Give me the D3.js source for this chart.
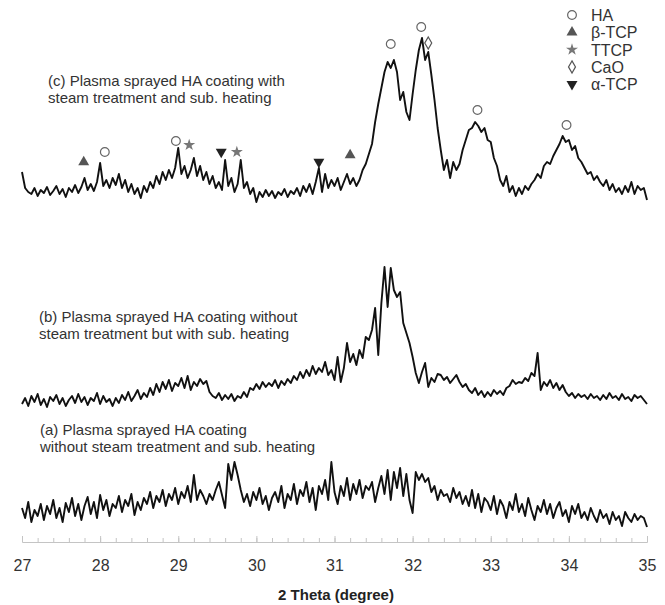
<!DOCTYPE html>
<html><head><meta charset="utf-8">
<script src="https://cdn.jsdelivr.net/npm/d3@7"></script>
<style>body{margin:0;background:#fff} svg{display:block}</style>
</head><body>
<script>
// 2-theta sampling grid: 27.00 .. 35.00 every 0.04 degree (201 points)
const thetaStart = 27, thetaStep = 0.04, nPoints = 201;

// Intensity (a.u.) of each pattern, relative to its own baseline
const traceA = [
 22,12,28,8,20,14,26,10,24,16,
 30,12,22,8,27,18,32,14,26,10,
 24,33,16,28,12,35,20,30,14,26,
 22,34,18,30,24,36,15,28,20,32,
 26,38,22,34,28,40,24,36,30,42,
 26,38,32,44,28,55,30,40,34,26,
 36,30,40,48,35,22,66,50,68,55,
 40,28,36,24,38,30,42,26,34,20,
 32,38,28,44,22,36,30,46,26,40,
 34,48,28,42,20,44,36,50,30,68,
 38,26,44,34,52,30,46,36,50,32,
 44,40,48,28,42,54,36,60,30,58,
 42,62,34,56,30,17,58,50,56,48,
 52,38,44,30,40,34,36,28,42,32,
 38,26,34,24,40,22,36,18,32,28,
 20,34,16,30,24,12,28,20,36,18,
 26,14,32,20,10,24,18,30,16,26,
 12,22,28,14,20,8,24,16,26,12,
 18,10,22,14,8,20,12,16,6,18,
 10,14,4,18,12,8,16,10,14,12,
 3];
const traceB = [
 6,12,4,14,8,16,5,11,3,13,
 9,15,6,12,4,10,14,7,16,8,
 13,5,12,9,17,6,14,8,11,4,
 12,7,15,10,18,9,14,20,11,17,
 13,22,15,26,18,28,21,30,19,27,
 24,32,22,34,20,28,24,31,26,29,
 18,14,12,17,10,15,11,16,9,14,
 12,18,13,22,20,26,21,28,23,27,
 24,30,22,29,25,31,27,34,30,38,
 32,40,34,44,36,42,38,48,35,40,
 30,53,28,42,67,48,56,45,60,52,
 73,70,80,102,55,107,143,103,142,120,
 113,118,87,77,67,53,37,27,38,47,
 23,32,28,36,35,30,33,27,31,35,
 28,23,26,20,17,22,15,19,13,18,
 14,20,16,19,15,22,24,30,26,28,
 27,32,29,37,34,57,20,28,24,30,
 22,27,20,25,18,14,17,12,16,13,
 15,11,16,12,14,10,15,11,17,12,
 14,10,16,11,13,9,15,12,14,10,
 6];
const traceC = [
 28,12,8,6,12,4,10,7,13,5,
 9,14,6,11,3,12,8,15,7,13,
 22,10,16,9,18,37,14,20,12,22,
 15,26,12,20,8,16,6,12,2,14,
 8,18,12,24,16,28,20,30,22,32,
 52,26,34,22,30,42,24,34,20,28,
 16,24,12,18,10,40,14,22,8,16,
 40,12,18,6,12,-2,8,3,10,4,
 9,2,8,5,11,3,9,6,12,4,
 14,8,16,6,18,32,8,26,12,20,
 14,22,10,18,26,16,22,14,20,30,
 36,46,56,78,96,112,128,138,132,140,
 128,100,108,88,80,106,130,150,162,140,
 148,125,100,72,50,30,40,22,38,30,
 36,50,60,70,72,78,74,68,72,60,
 58,42,34,20,14,24,8,14,4,12,
 6,14,10,16,20,26,22,34,38,36,
 44,50,56,64,58,60,50,54,42,38,
 32,26,28,20,24,18,14,20,10,16,
 8,12,6,14,8,18,6,14,10,12,
 0];

const traceLabels = [
  ["(c) Plasma sprayed HA coating with", "steam treatment and sub. heating"],
  ["(b) Plasma sprayed HA coating without", "steam treatment but with sub. heating"],
  ["(a) Plasma sprayed HA coating", "without steam treatment and sub. heating"]
];

// Phase markers on pattern (c): phase, 2theta, intensity level above pattern (c) baseline
const phaseNames = ["HA", "β-TCP", "TTCP", "CaO", "α-TCP"];
const markerPhase = ["β-TCP","HA","HA","TTCP","α-TCP","TTCP","α-TCP","β-TCP","HA","HA","CaO","HA","HA"];
const markerTheta = [27.79, 28.06, 28.97, 29.14, 29.55, 29.75, 30.80, 31.20, 31.72, 32.11, 32.20, 32.83, 33.97];
const markerLevel = [38, 48, 59, 55, 48, 48, 38, 45, 156, 173, 157, 90, 75];

const xTicks = [27, 28, 29, 30, 31, 32, 33, 34, 35];
const xTitle = "2 Theta (degree)";

// ---------------- drawing ----------------
const W = 665, H = 605;
const svg = d3.select("body").append("svg").attr("width", W).attr("height", H)
  .style("font-family", "'Liberation Sans', Arial, sans-serif");

const x = d3.scaleLinear().domain([27, 35]).range([22, 647]);
const y = d3.scaleLinear().domain([0, 520]).range([542, 22]);
const offsets = [342, 132, 12]; // stacking offsets for c, b, a

const theta = d3.range(nPoints).map(i => thetaStart + i * thetaStep);
const traces = [traceC, traceB, traceA];

const line = d3.line().x(d => x(d[0])).y(d => y(d[1]));
traces.forEach((tr, k) => {
  const pts = tr.map((v, i) => [theta[i], v + offsets[k]]);
  svg.append("path").attr("d", line(pts))
    .attr("fill", "none").attr("stroke", "#111").attr("stroke-width", 1.9)
    .attr("stroke-linejoin", "round");
});

// axis
const minorTicks = d3.range(0, 41).map(i => 27 + i * 0.2);
const gMinor = svg.append("g").attr("transform", `translate(0,${y(0)})`)
  .call(d3.axisBottom(x).tickValues(minorTicks).tickSizeInner(-4).tickSizeOuter(0).tickFormat(""));
const gAxis = svg.append("g").attr("transform", `translate(0,${y(0)})`)
  .call(d3.axisBottom(x).tickValues(xTicks).tickSizeInner(-6).tickSizeOuter(0).tickPadding(18).tickFormat(d3.format("d")));
svg.selectAll(".domain").attr("stroke", "#c4c4c4");
svg.selectAll(".tick line").attr("stroke", "#c4c4c4");
gAxis.selectAll("text").attr("font-size", 16).attr("fill", "#333")
  .style("font-family", "'Liberation Sans', Arial, sans-serif");

svg.append("text").attr("x", 336).attr("y", 600).attr("text-anchor", "middle")
  .attr("font-size", 15).attr("font-weight", "bold").attr("fill", "#222").text(xTitle);

// trace labels
const labelPos = [[48, 86, 103], [39, 322, 339], [40, 435, 452]];
traceLabels.forEach((lines, k) => {
  lines.forEach((t, j) => {
    svg.append("text").attr("x", labelPos[k][0]).attr("y", labelPos[k][1 + j])
      .attr("font-size", 15).attr("fill", "#333").text(t);
  });
});

// symbols
const symStyle = {
  "HA":    {type: d3.symbolCircle,   size: 60, fill: "#fff", stroke: "#666", rot: 0},
  "β-TCP": {type: d3.symbolTriangle, size: 52, fill: "#555", stroke: "none", rot: 0},
  "TTCP":  {type: d3.symbolStar,     size: 45, fill: "#777", stroke: "none", rot: 0},
  "CaO":   {type: d3.symbolDiamond,  size: 42, fill: "#fff", stroke: "#555", rot: 0},
  "α-TCP": {type: d3.symbolTriangle, size: 52, fill: "#222", stroke: "none", rot: 180}
};
function drawSym(px, py, name) {
  const s = symStyle[name];
  svg.append("path").attr("d", d3.symbol().type(s.type).size(s.size)())
    .attr("transform", `translate(${px},${py}) rotate(${s.rot})`)
    .attr("fill", s.fill).attr("stroke", s.stroke).attr("stroke-width", 1.2);
}
markerPhase.forEach((p, i) => drawSym(x(markerTheta[i]), y(markerLevel[i] + offsets[0]), p));

// legend
phaseNames.forEach((p, i) => {
  const ly = 15 + i * 17.3;
  drawSym(572, ly, p);
  svg.append("text").attr("x", 591).attr("y", ly + 6).attr("font-size", 16)
    .attr("fill", "#333").text(p);
});
</script>
</body></html>
